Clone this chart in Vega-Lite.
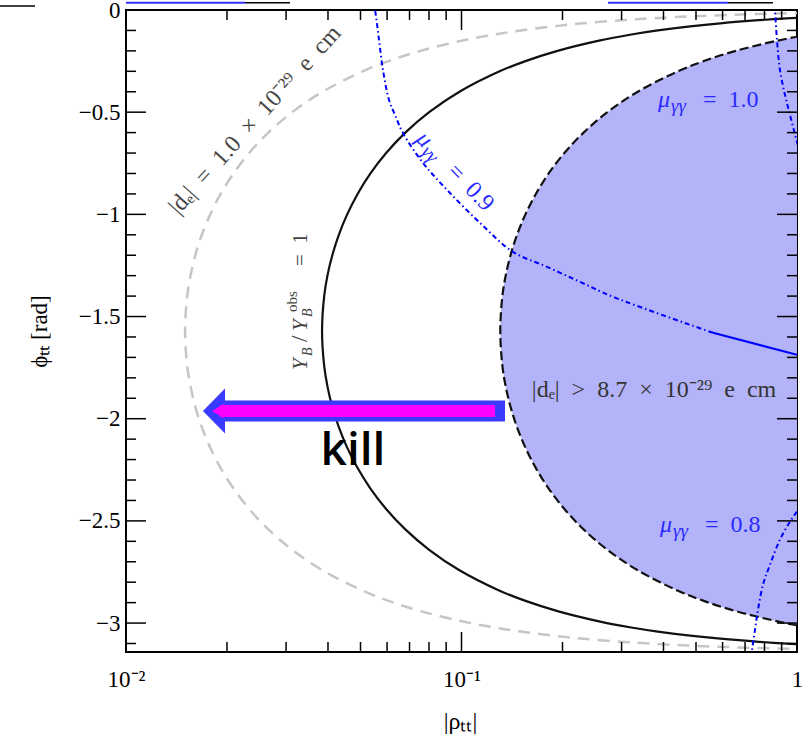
{
  "$schema": "https://vega.github.io/schema/vega-lite/v6.json",
  "width": 671,
  "height": 642,
  "autosize": {"type": "none"},
  "padding": {"left": 126, "top": 10, "right": 15, "bottom": 89},
  "background": "white",
  "config": {
    "view": {"stroke": "#000000", "strokeWidth": 2},
    "axis": {"grid": false},
    "font": "Liberation Serif"
  },
  "datasets": {
    "one": [{"k": 1}],
    "curves": [
      {"c": "gray", "phi": -0.012, "rho": 1.25}, {"c": "gray", "phi": -0.02, "rho": 0.75}, {"c": "gray", "phi": -0.03, "rho": 0.5}, {"c": "gray", "phi": -0.04, "rho": 0.375}, {"c": "gray", "phi": -0.05, "rho": 0.3001}, {"c": "gray", "phi": -0.065, "rho": 0.2309}, {"c": "gray", "phi": -0.08, "rho": 0.1877}, {"c": "gray", "phi": -0.1, "rho": 0.1503}, {"c": "gray", "phi": -0.12, "rho": 0.1253}, {"c": "gray", "phi": -0.15, "rho": 0.1004}, {"c": "gray", "phi": -0.2, "rho": 0.07549}, {"c": "gray", "phi": -0.25, "rho": 0.06063}, {"c": "gray", "phi": -0.3, "rho": 0.05076}, {"c": "gray", "phi": -0.4, "rho": 0.03852}, {"c": "gray", "phi": -0.5, "rho": 0.03129}, {"c": "gray", "phi": -0.6, "rho": 0.02657}, {"c": "gray", "phi": -0.7, "rho": 0.02328}, {"c": "gray", "phi": -0.8, "rho": 0.02091}, {"c": "gray", "phi": -0.9, "rho": 0.01915}, {"c": "gray", "phi": -1.0, "rho": 0.01783}, {"c": "gray", "phi": -1.1, "rho": 0.01683}, {"c": "gray", "phi": -1.2, "rho": 0.01609}, {"c": "gray", "phi": -1.3, "rho": 0.01557}, {"c": "gray", "phi": -1.4, "rho": 0.01522}, {"c": "gray", "phi": -1.5708, "rho": 0.015},
      {"c": "gray", "phi": -1.7416, "rho": 0.01522}, {"c": "gray", "phi": -1.8416, "rho": 0.01557}, {"c": "gray", "phi": -1.9416, "rho": 0.01609}, {"c": "gray", "phi": -2.0416, "rho": 0.01683}, {"c": "gray", "phi": -2.1416, "rho": 0.01783}, {"c": "gray", "phi": -2.2416, "rho": 0.01915}, {"c": "gray", "phi": -2.3416, "rho": 0.02091}, {"c": "gray", "phi": -2.4416, "rho": 0.02328}, {"c": "gray", "phi": -2.5416, "rho": 0.02657}, {"c": "gray", "phi": -2.6416, "rho": 0.03129}, {"c": "gray", "phi": -2.7416, "rho": 0.03852}, {"c": "gray", "phi": -2.8416, "rho": 0.05076}, {"c": "gray", "phi": -2.8916, "rho": 0.06063}, {"c": "gray", "phi": -2.9416, "rho": 0.07549}, {"c": "gray", "phi": -2.9916, "rho": 0.1004}, {"c": "gray", "phi": -3.0216, "rho": 0.1253}, {"c": "gray", "phi": -3.0416, "rho": 0.1503}, {"c": "gray", "phi": -3.0616, "rho": 0.1877}, {"c": "gray", "phi": -3.0766, "rho": 0.2309}, {"c": "gray", "phi": -3.0916, "rho": 0.3001}, {"c": "gray", "phi": -3.1016, "rho": 0.375}, {"c": "gray", "phi": -3.1116, "rho": 0.5}, {"c": "gray", "phi": -3.1216, "rho": 0.75}, {"c": "gray", "phi": -3.1296, "rho": 1.25},
      {"c": "black", "phi": -0.03, "rho": 1.28}, {"c": "black", "phi": -0.04, "rho": 0.96}, {"c": "black", "phi": -0.05, "rho": 0.7683}, {"c": "black", "phi": -0.065, "rho": 0.5912}, {"c": "black", "phi": -0.08, "rho": 0.4806}, {"c": "black", "phi": -0.1, "rho": 0.3848}, {"c": "black", "phi": -0.12, "rho": 0.3208}, {"c": "black", "phi": -0.15, "rho": 0.257}, {"c": "black", "phi": -0.2, "rho": 0.1933}, {"c": "black", "phi": -0.25, "rho": 0.1552}, {"c": "black", "phi": -0.3, "rho": 0.1299}, {"c": "black", "phi": -0.4, "rho": 0.09861}, {"c": "black", "phi": -0.5, "rho": 0.0801}, {"c": "black", "phi": -0.6, "rho": 0.06801}, {"c": "black", "phi": -0.7, "rho": 0.05961}, {"c": "black", "phi": -0.8, "rho": 0.05353}, {"c": "black", "phi": -0.9, "rho": 0.04902}, {"c": "black", "phi": -1.0, "rho": 0.04563}, {"c": "black", "phi": -1.1, "rho": 0.04309}, {"c": "black", "phi": -1.2, "rho": 0.0412}, {"c": "black", "phi": -1.3, "rho": 0.03985}, {"c": "black", "phi": -1.4, "rho": 0.03897}, {"c": "black", "phi": -1.5708, "rho": 0.0384},
      {"c": "black", "phi": -1.7416, "rho": 0.03897}, {"c": "black", "phi": -1.8416, "rho": 0.03985}, {"c": "black", "phi": -1.9416, "rho": 0.0412}, {"c": "black", "phi": -2.0416, "rho": 0.04309}, {"c": "black", "phi": -2.1416, "rho": 0.04563}, {"c": "black", "phi": -2.2416, "rho": 0.04902}, {"c": "black", "phi": -2.3416, "rho": 0.05353}, {"c": "black", "phi": -2.4416, "rho": 0.05961}, {"c": "black", "phi": -2.5416, "rho": 0.06801}, {"c": "black", "phi": -2.6416, "rho": 0.0801}, {"c": "black", "phi": -2.7416, "rho": 0.09861}, {"c": "black", "phi": -2.8416, "rho": 0.1299}, {"c": "black", "phi": -2.8916, "rho": 0.1552}, {"c": "black", "phi": -2.9416, "rho": 0.1933}, {"c": "black", "phi": -2.9916, "rho": 0.257}, {"c": "black", "phi": -3.0216, "rho": 0.3208}, {"c": "black", "phi": -3.0416, "rho": 0.3848}, {"c": "black", "phi": -3.0616, "rho": 0.4806}, {"c": "black", "phi": -3.0766, "rho": 0.5912}, {"c": "black", "phi": -3.0916, "rho": 0.7683}, {"c": "black", "phi": -3.1016, "rho": 0.96}, {"c": "black", "phi": -3.1116, "rho": 1.28},
      {"c": "bound", "phi": -0.12, "rho": 1.09}, {"c": "bound", "phi": -0.13, "rho": 1.007}, {"c": "bound", "phi": -0.15, "rho": 0.8735}, {"c": "bound", "phi": -0.2, "rho": 0.6568}, {"c": "bound", "phi": -0.25, "rho": 0.5275}, {"c": "bound", "phi": -0.3, "rho": 0.4416}, {"c": "bound", "phi": -0.4, "rho": 0.3351}, {"c": "bound", "phi": -0.5, "rho": 0.2722}, {"c": "bound", "phi": -0.6, "rho": 0.2311}, {"c": "bound", "phi": -0.7, "rho": 0.2026}, {"c": "bound", "phi": -0.8, "rho": 0.1819}, {"c": "bound", "phi": -0.9, "rho": 0.1666}, {"c": "bound", "phi": -1.0, "rho": 0.1551}, {"c": "bound", "phi": -1.1, "rho": 0.1464}, {"c": "bound", "phi": -1.2, "rho": 0.14}, {"c": "bound", "phi": -1.3, "rho": 0.1354}, {"c": "bound", "phi": -1.4, "rho": 0.1324}, {"c": "bound", "phi": -1.5708, "rho": 0.1305},
      {"c": "bound", "phi": -1.7416, "rho": 0.1324}, {"c": "bound", "phi": -1.8416, "rho": 0.1354}, {"c": "bound", "phi": -1.9416, "rho": 0.14}, {"c": "bound", "phi": -2.0416, "rho": 0.1464}, {"c": "bound", "phi": -2.1416, "rho": 0.1551}, {"c": "bound", "phi": -2.2416, "rho": 0.1666}, {"c": "bound", "phi": -2.3416, "rho": 0.1819}, {"c": "bound", "phi": -2.4416, "rho": 0.2026}, {"c": "bound", "phi": -2.5416, "rho": 0.2311}, {"c": "bound", "phi": -2.6416, "rho": 0.2722}, {"c": "bound", "phi": -2.7416, "rho": 0.3351}, {"c": "bound", "phi": -2.8416, "rho": 0.4416}, {"c": "bound", "phi": -2.8916, "rho": 0.5275}, {"c": "bound", "phi": -2.9416, "rho": 0.6568}, {"c": "bound", "phi": -2.9916, "rho": 0.8735}, {"c": "bound", "phi": -3.0116, "rho": 1.007}, {"c": "bound", "phi": -3.0216, "rho": 1.09}
    ],
    "mu": [
      {"c": "0.9", "rho": 0.0545, "phi": 0.04}, {"c": "0.9", "rho": 0.05524, "phi": 0}, {"c": "0.9", "rho": 0.05677, "phi": -0.1468}, {"c": "0.9", "rho": 0.05834, "phi": -0.2936}, {"c": "0.9", "rho": 0.06081, "phi": -0.4404}, {"c": "0.9", "rho": 0.06337, "phi": -0.5138}, {"c": "0.9", "rho": 0.06691, "phi": -0.6019}, {"c": "0.9", "rho": 0.07678, "phi": -0.7482}, {"c": "0.9", "rho": 0.09054, "phi": -0.8802}, {"c": "0.9", "rho": 0.1135, "phi": -1.0416}, {"c": "0.9", "rho": 0.1424, "phi": -1.1834}, {"c": "0.9", "rho": 0.1798, "phi": -1.2567}, {"c": "0.9", "rho": 0.2255, "phi": -1.3301}, {"c": "0.9", "rho": 0.2829, "phi": -1.4034}, {"c": "0.9", "rho": 0.5619, "phi": -1.5795},
      {"c": "0.9s", "rho": 0.5619, "phi": -1.5795}, {"c": "0.9s", "rho": 1.0, "phi": -1.687},
      {"c": "1.0", "rho": 0.855, "phi": 0.05}, {"c": "1.0", "rho": 0.8597, "phi": 0}, {"c": "1.0", "rho": 0.8716, "phi": -0.1467}, {"c": "1.0", "rho": 0.8897, "phi": -0.2934}, {"c": "1.0", "rho": 0.9209, "phi": -0.4156}, {"c": "1.0", "rho": 0.953, "phi": -0.5134}, {"c": "1.0", "rho": 1.0, "phi": -0.6455}, {"c": "1.0", "rho": 1.03, "phi": -0.72},
      {"c": "0.8", "rho": 0.731, "phi": -3.17}, {"c": "0.8", "rho": 0.7344, "phi": -3.1345}, {"c": "0.8", "rho": 0.7497, "phi": -3.0318}, {"c": "0.8", "rho": 0.7653, "phi": -2.934}, {"c": "0.8", "rho": 0.792, "phi": -2.8117}, {"c": "0.8", "rho": 0.831, "phi": -2.7139}, {"c": "0.8", "rho": 0.8897, "phi": -2.5917}, {"c": "0.8", "rho": 0.953, "phi": -2.5037}, {"c": "0.8", "rho": 1.0, "phi": -2.4548}, {"c": "0.8", "rho": 1.04, "phi": -2.42}
    ],
    "xminor": [{"v": 0.02}, {"v": 0.03}, {"v": 0.04}, {"v": 0.05}, {"v": 0.06}, {"v": 0.07}, {"v": 0.08}, {"v": 0.09}, {"v": 0.2}, {"v": 0.3}, {"v": 0.4}, {"v": 0.5}, {"v": 0.6}, {"v": 0.7}, {"v": 0.8}, {"v": 0.9}],
    "xmajor": [{"v": 0.1}],
    "yminor": [{"v": -0.1}, {"v": -0.2}, {"v": -0.3}, {"v": -0.4}, {"v": -0.6}, {"v": -0.7}, {"v": -0.8}, {"v": -0.9}, {"v": -1.1}, {"v": -1.2}, {"v": -1.3}, {"v": -1.4}, {"v": -1.6}, {"v": -1.7}, {"v": -1.8}, {"v": -1.9}, {"v": -2.1}, {"v": -2.2}, {"v": -2.3}, {"v": -2.4}, {"v": -2.6}, {"v": -2.7}, {"v": -2.8}, {"v": -2.9}, {"v": -3.1}],
    "ymajor": [{"v": -0.5}, {"v": -1.0}, {"v": -1.5}, {"v": -2.0}, {"v": -2.5}, {"v": -3.0}]
  },
  "layer": [
    {
      "data": {"name": "curves"},
      "transform": [{"filter": "datum.c == 'bound'"}],
      "mark": {"type": "area", "orient": "horizontal", "clip": true, "color": "#b3b3fa", "opacity": 1, "interpolate": "catmull-rom"},
      "encoding": {
        "y": {"field": "phi", "type": "quantitative", "scale": {"domain": [-3.1416, 0], "nice": false, "zero": false},
          "axis": {"values": [0, -0.5, -1, -1.5, -2, -2.5, -3], "format": "~g", "ticks": false, "tickSize": 0, "domain": false, "labelPadding": 6, "labelFlush": false, "labelFont": "Liberation Serif", "labelFontSize": 23, "labelColor": "#000000", "title": "ϕₜₜ [rad]", "titleFont": "Liberation Serif", "titleFontSize": 23, "titleFontWeight": "normal", "titleColor": "#000000", "titleX": -75, "titleY": 321, "titleAngle": 270, "titleAlign": "center", "titleBaseline": "bottom"}},
        "x": {"field": "rho", "type": "quantitative", "stack": null, "scale": {"type": "log", "domain": [0.01, 1], "nice": false},
          "axis": {"values": [0.01, 0.1, 1], "labelExpr": "datum.value > 0.5 ? '1' : datum.value > 0.05 ? '10⁻¹' : '10⁻²'", "ticks": false, "tickSize": 0, "domain": false, "labelPadding": 16, "labelFlush": false, "labelFont": "Liberation Serif", "labelFontSize": 23, "labelColor": "#000000", "title": "|ρₜₜ|", "titleFont": "Liberation Serif", "titleFontSize": 24, "titleFontWeight": "normal", "titleColor": "#000000", "titleX": 334, "titleY": 76, "titleAlign": "center", "titleBaseline": "alphabetic"}},
        "x2": {"datum": 1.6}
      }
    },
    {
      "data": {"name": "curves"},
      "transform": [{"filter": "datum.c == 'gray'"}],
      "mark": {"type": "line", "clip": true, "color": "#c6c6c6", "strokeWidth": 2.5, "strokeDash": [12, 8], "interpolate": "catmull-rom"},
      "encoding": {"x": {"field": "rho", "type": "quantitative"}, "y": {"field": "phi", "type": "quantitative"}, "order": {"field": "phi", "type": "quantitative"}}
    },
    {
      "data": {"name": "curves"},
      "transform": [{"filter": "datum.c == 'black'"}],
      "mark": {"type": "line", "clip": true, "color": "#111111", "strokeWidth": 2.2, "interpolate": "catmull-rom"},
      "encoding": {"x": {"field": "rho", "type": "quantitative"}, "y": {"field": "phi", "type": "quantitative"}, "order": {"field": "phi", "type": "quantitative"}}
    },
    {
      "data": {"name": "curves"},
      "transform": [{"filter": "datum.c == 'bound'"}],
      "mark": {"type": "line", "clip": true, "color": "#111111", "strokeWidth": 2.2, "strokeDash": [9, 4], "interpolate": "catmull-rom"},
      "encoding": {"x": {"field": "rho", "type": "quantitative"}, "y": {"field": "phi", "type": "quantitative"}, "order": {"field": "phi", "type": "quantitative"}}
    },
    {
      "data": {"name": "mu"},
      "transform": [{"filter": "datum.c == '0.9' || datum.c == '1.0' || datum.c == '0.8'"}],
      "mark": {"type": "line", "clip": true, "color": "#0000ff", "strokeWidth": 2, "strokeDash": [5, 3, 1.5, 3], "interpolate": "catmull-rom"},
      "encoding": {"x": {"field": "rho", "type": "quantitative"}, "y": {"field": "phi", "type": "quantitative"}, "detail": {"field": "c"}, "order": {"field": "phi", "type": "quantitative"}}
    },
    {
      "data": {"name": "mu"},
      "transform": [{"filter": "datum.c == '0.9s'"}],
      "mark": {"type": "line", "clip": true, "color": "#0000ff", "strokeWidth": 2},
      "encoding": {"x": {"field": "rho", "type": "quantitative"}, "y": {"field": "phi", "type": "quantitative"}}
    },
    {"data": {"name": "xminor"}, "mark": {"type": "rule", "color": "#000000", "strokeWidth": 1.5},
      "encoding": {"x": {"field": "v", "type": "quantitative"}, "y": {"datum": -3.1416}, "y2": {"datum": -3.0927}}},
    {"data": {"name": "xminor"}, "mark": {"type": "rule", "color": "#000000", "strokeWidth": 1.5},
      "encoding": {"x": {"field": "v", "type": "quantitative"}, "y": {"datum": 0}, "y2": {"datum": -0.0489}}},
    {"data": {"name": "xmajor"}, "mark": {"type": "rule", "color": "#000000", "strokeWidth": 1.5},
      "encoding": {"x": {"field": "v", "type": "quantitative"}, "y": {"datum": -3.1416}, "y2": {"datum": -3.0437}}},
    {"data": {"name": "xmajor"}, "mark": {"type": "rule", "color": "#000000", "strokeWidth": 1.5},
      "encoding": {"x": {"field": "v", "type": "quantitative"}, "y": {"datum": 0}, "y2": {"datum": -0.0979}}},
    {"data": {"name": "yminor"}, "mark": {"type": "rule", "color": "#000000", "strokeWidth": 1.5},
      "encoding": {"y": {"field": "v", "type": "quantitative"}, "x": {"datum": 0.01}, "x2": {"datum": 0.01071}}},
    {"data": {"name": "yminor"}, "mark": {"type": "rule", "color": "#000000", "strokeWidth": 1.5},
      "encoding": {"y": {"field": "v", "type": "quantitative"}, "x": {"datum": 1}, "x2": {"datum": 0.9337}}},
    {"data": {"name": "ymajor"}, "mark": {"type": "rule", "color": "#000000", "strokeWidth": 1.5},
      "encoding": {"y": {"field": "v", "type": "quantitative"}, "x": {"datum": 0.01}, "x2": {"datum": 0.01147}}},
    {"data": {"name": "ymajor"}, "mark": {"type": "rule", "color": "#000000", "strokeWidth": 1.5},
      "encoding": {"y": {"field": "v", "type": "quantitative"}, "x": {"datum": 1}, "x2": {"datum": 0.8718}}},
    {"data": {"name": "one"}, "mark": {"type": "text", "text": "|dₑ|\u2002=\u20021.0\u2002×\u200210⁻²⁹\u2002e\u2002cm", "angle": 312, "align": "center", "baseline": "middle", "font": "Liberation Serif", "fontSize": 24, "color": "#444444"},
      "encoding": {"x": {"datum": 0.02424}, "y": {"datum": -0.5383}}},
    {"data": {"name": "one"}, "mark": {"type": "text", "text": "Y", "angle": 270, "align": "left", "baseline": "alphabetic", "font": "Liberation Serif", "fontStyle": "italic", "fontSize": 21, "color": "#444444", "dx": 0, "dy": 0},
      "encoding": {"x": {"datum": 0.03463}, "y": {"datum": -1.7617}}},
    {"data": {"name": "one"}, "mark": {"type": "text", "text": "B", "angle": 270, "align": "left", "baseline": "alphabetic", "font": "Liberation Serif", "fontStyle": "italic", "fontSize": 14, "color": "#444444", "dx": 14, "dy": 5},
      "encoding": {"x": {"datum": 0.03463}, "y": {"datum": -1.7617}}},
    {"data": {"name": "one"}, "mark": {"type": "text", "text": "/", "angle": 270, "align": "left", "baseline": "alphabetic", "font": "Liberation Serif", "fontSize": 23, "color": "#444444", "dx": 28, "dy": 0},
      "encoding": {"x": {"datum": 0.03463}, "y": {"datum": -1.7617}}},
    {"data": {"name": "one"}, "mark": {"type": "text", "text": "Y", "angle": 270, "align": "left", "baseline": "alphabetic", "font": "Liberation Serif", "fontStyle": "italic", "fontSize": 21, "color": "#444444", "dx": 39, "dy": 0},
      "encoding": {"x": {"datum": 0.03463}, "y": {"datum": -1.7617}}},
    {"data": {"name": "one"}, "mark": {"type": "text", "text": "B", "angle": 270, "align": "left", "baseline": "alphabetic", "font": "Liberation Serif", "fontStyle": "italic", "fontSize": 14, "color": "#444444", "dx": 53, "dy": 5},
      "encoding": {"x": {"datum": 0.03463}, "y": {"datum": -1.7617}}},
    {"data": {"name": "one"}, "mark": {"type": "text", "text": "obs", "angle": 270, "align": "left", "baseline": "alphabetic", "font": "Liberation Serif", "fontSize": 15, "color": "#444444", "dx": 58, "dy": -10},
      "encoding": {"x": {"datum": 0.03463}, "y": {"datum": -1.7617}}},
    {"data": {"name": "one"}, "mark": {"type": "text", "text": "=\u20021", "angle": 270, "align": "left", "baseline": "alphabetic", "font": "Liberation Serif", "fontSize": 21, "color": "#444444", "dx": 104, "dy": 0},
      "encoding": {"x": {"datum": 0.03463}, "y": {"datum": -1.7617}}},
    {"data": {"name": "one"}, "mark": {"type": "text", "text": "μ", "angle": 46, "align": "left", "baseline": "alphabetic", "font": "Liberation Serif", "fontStyle": "italic", "fontSize": 24, "color": "#2a2aff", "dx": 0, "dy": 0},
      "encoding": {"x": {"datum": 0.07267}, "y": {"datum": -0.6362}}},
    {"data": {"name": "one"}, "mark": {"type": "text", "text": "γγ", "angle": 46, "align": "left", "baseline": "alphabetic", "font": "Liberation Serif", "fontStyle": "italic", "fontSize": 19, "color": "#2a2aff", "dx": 13, "dy": 5},
      "encoding": {"x": {"datum": 0.07267}, "y": {"datum": -0.6362}}},
    {"data": {"name": "one"}, "mark": {"type": "text", "text": "=\u20020.9", "angle": 46, "align": "left", "baseline": "alphabetic", "font": "Liberation Serif", "fontSize": 24, "color": "#2a2aff", "dx": 45, "dy": 0},
      "encoding": {"x": {"datum": 0.07267}, "y": {"datum": -0.6362}}},
    {"data": {"name": "one"}, "mark": {"type": "text", "text": "μ", "align": "left", "baseline": "alphabetic", "font": "Liberation Serif", "fontStyle": "italic", "fontSize": 24, "color": "#2a2aff", "dx": 0, "dy": 0},
      "encoding": {"x": {"datum": 0.3852}, "y": {"datum": -0.4747}}},
    {"data": {"name": "one"}, "mark": {"type": "text", "text": "γγ", "align": "left", "baseline": "alphabetic", "font": "Liberation Serif", "fontStyle": "italic", "fontSize": 19, "color": "#2a2aff", "dx": 13, "dy": 5},
      "encoding": {"x": {"datum": 0.3852}, "y": {"datum": -0.4747}}},
    {"data": {"name": "one"}, "mark": {"type": "text", "text": "=\u20021.0", "align": "left", "baseline": "alphabetic", "font": "Liberation Serif", "fontSize": 24, "color": "#2a2aff", "dx": 45, "dy": 0},
      "encoding": {"x": {"datum": 0.3852}, "y": {"datum": -0.4747}}},
    {"data": {"name": "one"}, "mark": {"type": "text", "text": "μ", "align": "left", "baseline": "alphabetic", "font": "Liberation Serif", "fontStyle": "italic", "fontSize": 24, "color": "#2a2aff", "dx": 0, "dy": 0},
      "encoding": {"x": {"datum": 0.3905}, "y": {"datum": -2.5544}}},
    {"data": {"name": "one"}, "mark": {"type": "text", "text": "γγ", "align": "left", "baseline": "alphabetic", "font": "Liberation Serif", "fontStyle": "italic", "fontSize": 19, "color": "#2a2aff", "dx": 13, "dy": 5},
      "encoding": {"x": {"datum": 0.3905}, "y": {"datum": -2.5544}}},
    {"data": {"name": "one"}, "mark": {"type": "text", "text": "=\u20020.8", "align": "left", "baseline": "alphabetic", "font": "Liberation Serif", "fontSize": 24, "color": "#2a2aff", "dx": 45, "dy": 0},
      "encoding": {"x": {"datum": 0.3905}, "y": {"datum": -2.5544}}},
    {"data": {"name": "one"}, "mark": {"type": "text", "text": "|dₑ|\u2002>\u20028.7\u2002×\u200210⁻²⁹\u2002e\u2002cm", "align": "center", "baseline": "alphabetic", "font": "Liberation Serif", "fontSize": 24, "color": "#333333"},
      "encoding": {"x": {"datum": 0.3749}, "y": {"datum": -1.8938}}},
    {"data": {"name": "one"}, "mark": {"type": "rule", "color": "#3b3bff", "strokeWidth": 21, "strokeCap": "butt"},
      "encoding": {"x": {"datum": 0.0193}, "x2": {"datum": 0.1348}, "y": {"datum": -1.9623}}},
    {"data": {"name": "one"}, "mark": {"type": "point", "shape": "M -0.49 0 L 0.49 -1 L 0.49 1 Z", "size": 2025, "filled": true, "opacity": 1, "color": "#3b3bff"},
      "encoding": {"x": {"datum": 0.01829}, "y": {"datum": -1.9623}}},
    {"data": {"name": "one"}, "mark": {"type": "rule", "color": "#ff00ff", "strokeWidth": 12, "strokeCap": "butt"},
      "encoding": {"x": {"datum": 0.01906}, "x2": {"datum": 0.1258}, "y": {"datum": -1.9623}}},
    {"data": {"name": "one"}, "mark": {"type": "point", "shape": "M -0.86 0 L 0.86 -1 L 0.86 1 Z", "size": 196, "filled": true, "opacity": 1, "color": "#ff00ff"},
      "encoding": {"x": {"datum": 0.01879}, "y": {"datum": -1.9623}}},
    {"data": {"name": "one"}, "mark": {"type": "text", "text": "kill", "align": "center", "baseline": "alphabetic", "font": "Open Sans", "fontWeight": 600, "fontSize": 46, "color": "#000000"},
      "encoding": {"x": {"datum": 0.04749}, "y": {"datum": -2.2266}}},
    {"data": {"name": "one"}, "mark": {"type": "rule", "color": "#3333ff", "strokeWidth": 2},
      "encoding": {"x": {"datum": 0.01}, "x2": {"datum": 0.02263}, "y": {"datum": 0.0357}}},
    {"data": {"name": "one"}, "mark": {"type": "rule", "color": "#000000", "strokeWidth": 1.5},
      "encoding": {"x": {"datum": 0.02263}, "x2": {"datum": 0.03082}, "y": {"datum": 0.0357}}},
    {"data": {"name": "one"}, "mark": {"type": "rule", "color": "#3333ff", "strokeWidth": 2},
      "encoding": {"x": {"datum": 0.2733}, "x2": {"datum": 0.6226}, "y": {"datum": 0.0357}}},
    {"data": {"name": "one"}, "mark": {"type": "rule", "color": "#000000", "strokeWidth": 1.5},
      "encoding": {"x": {"datum": 0.6226}, "x2": {"datum": 0.8481}, "y": {"datum": 0.0357}}},
    {"data": {"name": "one"}, "mark": {"type": "rule", "color": "#000000", "strokeWidth": 1.5},
      "encoding": {"x": {"datum": 0.004212}, "x2": {"datum": 0.005356}, "y": {"datum": 0.0196}}}
  ]
}
